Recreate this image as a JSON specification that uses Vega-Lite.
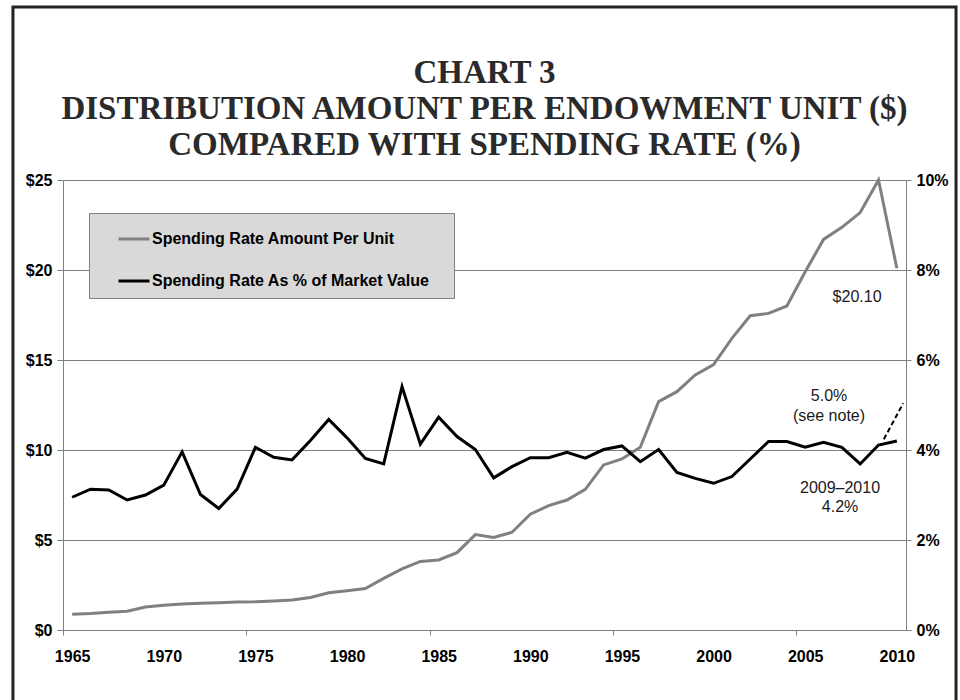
{
  "$schema": "https://vega.github.io/schema/vega-lite/v6.json",
  "width": 843,
  "height": 450,
  "autosize": {"type": "none"},
  "padding": {"left": 63, "top": 180, "right": 54, "bottom": 70},
  "background": "white",
  "config": {
    "view": {"stroke": null},
    "font": "Liberation Sans",
    "axis": {"labelFont": "Liberation Sans", "labelFontSize": 16, "labelFontWeight": "bold", "labelColor": "#000000", "title": null, "labelFlush": false, "labelOverlap": false, "labelBound": false}
  },
  "title": {
    "text": ["CHART 3", "DISTRIBUTION AMOUNT PER ENDOWMENT UNIT ($)", "COMPARED WITH SPENDING RATE (%)"],
    "font": "Liberation Serif",
    "fontSize": 33,
    "fontWeight": "bold",
    "lineHeight": 36,
    "color": "#2a2a2a",
    "anchor": "middle",
    "frame": "group",
    "baseline": "bottom",
    "offset": -189
  },
  "datasets": {
    "series": [
      {"year": 1965, "amount": 0.87, "rate": 2.95},
      {"year": 1966, "amount": 0.91, "rate": 3.13},
      {"year": 1967, "amount": 0.98, "rate": 3.11},
      {"year": 1968, "amount": 1.04, "rate": 2.89},
      {"year": 1969, "amount": 1.28, "rate": 3.0},
      {"year": 1970, "amount": 1.37, "rate": 3.22},
      {"year": 1971, "amount": 1.44, "rate": 3.96},
      {"year": 1972, "amount": 1.48, "rate": 3.01},
      {"year": 1973, "amount": 1.52, "rate": 2.7},
      {"year": 1974, "amount": 1.56, "rate": 3.13},
      {"year": 1975, "amount": 1.57, "rate": 4.06},
      {"year": 1976, "amount": 1.61, "rate": 3.84},
      {"year": 1977, "amount": 1.67, "rate": 3.78},
      {"year": 1978, "amount": 1.81, "rate": 4.21},
      {"year": 1979, "amount": 2.07, "rate": 4.68},
      {"year": 1980, "amount": 2.18, "rate": 4.27},
      {"year": 1981, "amount": 2.3, "rate": 3.81},
      {"year": 1982, "amount": 2.87, "rate": 3.69},
      {"year": 1983, "amount": 3.39, "rate": 5.41},
      {"year": 1984, "amount": 3.81, "rate": 4.13},
      {"year": 1985, "amount": 3.89, "rate": 4.73},
      {"year": 1986, "amount": 4.3, "rate": 4.3},
      {"year": 1987, "amount": 5.3, "rate": 4.01},
      {"year": 1988, "amount": 5.14, "rate": 3.38},
      {"year": 1989, "amount": 5.43, "rate": 3.63},
      {"year": 1990, "amount": 6.43, "rate": 3.83},
      {"year": 1991, "amount": 6.91, "rate": 3.83},
      {"year": 1992, "amount": 7.22, "rate": 3.95},
      {"year": 1993, "amount": 7.81, "rate": 3.82},
      {"year": 1994, "amount": 9.17, "rate": 4.01},
      {"year": 1995, "amount": 9.5, "rate": 4.09},
      {"year": 1996, "amount": 10.15, "rate": 3.74},
      {"year": 1997, "amount": 12.69, "rate": 4.01},
      {"year": 1998, "amount": 13.24, "rate": 3.5},
      {"year": 1999, "amount": 14.17, "rate": 3.37},
      {"year": 2000, "amount": 14.75, "rate": 3.26},
      {"year": 2001, "amount": 16.2, "rate": 3.41},
      {"year": 2002, "amount": 17.46, "rate": 3.8},
      {"year": 2003, "amount": 17.59, "rate": 4.19},
      {"year": 2004, "amount": 18.0, "rate": 4.19},
      {"year": 2005, "amount": 19.9, "rate": 4.06},
      {"year": 2006, "amount": 21.7, "rate": 4.17},
      {"year": 2007, "amount": 22.37, "rate": 4.06},
      {"year": 2008, "amount": 23.19, "rate": 3.69},
      {"year": 2009, "amount": 25.0, "rate": 4.11},
      {"year": 2010, "amount": 20.1, "rate": 4.2}
    ],
    "alternate": [
      {"year": 2009.29, "rate": 4.24},
      {"year": 2010.35, "rate": 5.04}
    ]
  },
  "layer": [
    {
      "layer": [
        {
          "data": {"values": [{}]},
          "mark": {"type": "rect", "filled": false, "stroke": "#222222", "strokeWidth": 3},
          "encoding": {
            "x": {"datum": 1961.77, "type": "quantitative", "scale": {"domain": [1964.5, 2010.5], "nice": false, "zero": false}},
            "x2": {"datum": 2013.23},
            "y": {"datum": 34.61, "type": "quantitative", "scale": {"domain": [0, 25], "nice": false, "zero": false}},
            "y2": {"datum": -4.44}
          }
        },
        {
          "data": {"name": "series"},
          "mark": {"type": "line", "strokeWidth": 3},
          "encoding": {
            "x": {
              "field": "year", "type": "quantitative",
              "scale": {"domain": [1964.5, 2010.5], "nice": false, "zero": false},
              "axis": {"orient": "bottom", "values": [1965, 1970, 1975, 1980, 1985, 1990, 1995, 2000, 2005, 2010], "format": "d", "ticks": false, "grid": false, "domain": true, "domainColor": "#808080", "domainWidth": 1, "labelPadding": 18}
            },
            "y": {
              "field": "amount", "type": "quantitative",
              "scale": {"domain": [0, 25], "nice": false, "zero": false},
              "axis": {"orient": "left", "values": [0, 5, 10, 15, 20, 25], "labelExpr": "'$' + datum.value", "grid": true, "gridColor": "#808080", "gridWidth": 1, "domainColor": "#808080", "tickColor": "#808080", "tickSize": 6, "labelPadding": 5}
            },
            "color": {
              "datum": "Spending Rate Amount Per Unit",
              "scale": {"domain": ["Spending Rate Amount Per Unit", "Spending Rate As % of Market Value"], "range": ["#808080", "#000000"]},
              "legend": {
                "orient": "none", "legendX": 26, "legendY": 33,
                "title": "\u00a0", "titleOrient": "right", "titlePadding": 16, "titleFontSize": 16,
                "fillColor": "#d9d9d9", "strokeColor": "#808080", "padding": 9,
                "symbolType": "stroke", "symbolSize": 961, "symbolStrokeWidth": 3, "symbolOffset": 19,
                "labelOffset": 1, "labelFont": "Liberation Sans", "labelFontSize": 16, "labelFontWeight": "bold",
                "labelColor": "#000000", "labelLimit": 600, "rowPadding": 17
              }
            }
          }
        },
        {
          "data": {"values": [{}]},
          "mark": {"type": "text", "text": "$20.10", "font": "Liberation Sans", "fontSize": 16, "color": "#1a1a1a", "align": "center", "baseline": "middle"},
          "encoding": {
            "x": {"datum": 2007.83, "type": "quantitative"},
            "y": {"datum": 18.5, "type": "quantitative"}
          }
        }
      ]
    },
    {
      "layer": [
        {
          "data": {"name": "series"},
          "mark": {"type": "line", "strokeWidth": 3},
          "encoding": {
            "x": {
              "field": "year", "type": "quantitative",
              "scale": {"domain": [1964.5, 2010.5], "nice": false, "zero": false},
              "axis": {"orient": "bottom", "values": [1964.5, 1974.5, 1984.5, 1994.5, 2004.5], "labels": false, "domain": false, "grid": false, "ticks": true, "tickSize": 5, "tickColor": "#808080"}
            },
            "y": {
              "field": "rate", "type": "quantitative",
              "scale": {"domain": [0, 10], "nice": false, "zero": false},
              "axis": {"orient": "right", "values": [0, 2, 4, 6, 8, 10], "labelExpr": "datum.value + '%'", "grid": false, "domainColor": "#808080", "tickColor": "#808080", "tickSize": 5, "labelPadding": 5}
            },
            "color": {"datum": "Spending Rate As % of Market Value"}
          }
        },
        {
          "data": {"name": "alternate"},
          "mark": {"type": "line", "color": "#000000", "strokeWidth": 2, "strokeDash": [5, 3]},
          "encoding": {
            "x": {"field": "year", "type": "quantitative"},
            "y": {"field": "rate", "type": "quantitative"}
          }
        },
        {
          "data": {"values": [{}]},
          "mark": {"type": "text", "text": "5.0%", "font": "Liberation Sans", "fontSize": 16, "color": "#1a1a1a", "align": "center", "baseline": "middle"},
          "encoding": {"x": {"datum": 2006.3, "type": "quantitative"}, "y": {"datum": 5.2, "type": "quantitative"}}
        },
        {
          "data": {"values": [{}]},
          "mark": {"type": "text", "text": "(see note)", "font": "Liberation Sans", "fontSize": 16, "color": "#1a1a1a", "align": "center", "baseline": "middle"},
          "encoding": {"x": {"datum": 2006.3, "type": "quantitative"}, "y": {"datum": 4.76, "type": "quantitative"}}
        },
        {
          "data": {"values": [{}]},
          "mark": {"type": "text", "text": "2009–2010", "font": "Liberation Sans", "fontSize": 16, "color": "#1a1a1a", "align": "center", "baseline": "middle"},
          "encoding": {"x": {"datum": 2006.9, "type": "quantitative"}, "y": {"datum": 3.16, "type": "quantitative"}}
        },
        {
          "data": {"values": [{}]},
          "mark": {"type": "text", "text": "4.2%", "font": "Liberation Sans", "fontSize": 16, "color": "#1a1a1a", "align": "center", "baseline": "middle"},
          "encoding": {"x": {"datum": 2006.9, "type": "quantitative"}, "y": {"datum": 2.73, "type": "quantitative"}}
        }
      ]
    }
  ],
  "resolve": {"scale": {"y": "independent"}, "axis": {"y": "independent", "x": "independent"}}
}
